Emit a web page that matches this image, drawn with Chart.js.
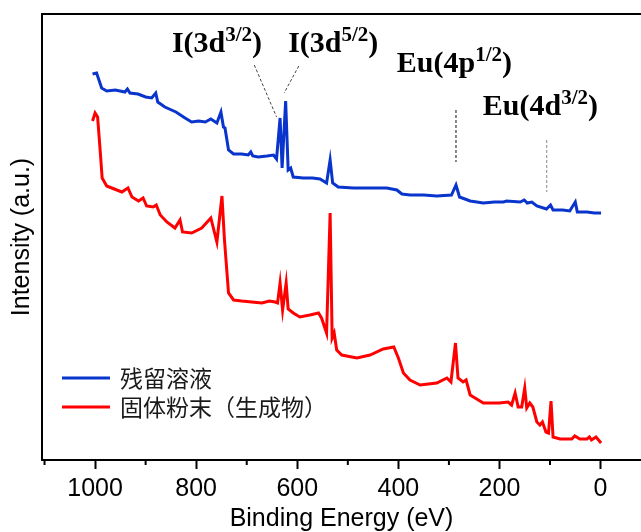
<!DOCTYPE html>
<html><head><meta charset="utf-8">
<script src="https://cdn.jsdelivr.net/npm/chart.js@4.4.0/dist/chart.umd.min.js"></script>
<style>html,body{margin:0;padding:0;background:#fff;overflow:hidden}#wrap{width:641px;height:532px;position:relative}</style>
</head><body><div id="wrap"><canvas id="c" width="641" height="532"></canvas></div>
<script>
// Binding energy (eV) and intensity (a.u.)
const blueEnergy = [1005,997,987,977,960,941,936,931,915,900,888,880,876,862,840,822,809,795,782,771,759,751,746,743,736,726,710,697,692,688,677,660,647,641,634,630,623,618,613,608,588,570,555,542,535,530,519,489,456,423,403,393,377,350,324,295,286,279,258,232,210,192,186,159,151,145,136,126,107,99,94,75,61,50,46,27,12,-1];
const blueIntensity = [386,387,372,369,370,368,371,367,366,363,362,367,358,353,348,342,338,339,338,341,337,348,333,332,310,306,306,305,308,304,303,304,305,301,342,292,359,290,292,283,282,282,281,277,300,277,273,272,272,272,270,266,265,265,264,265,275,263,259,257,258,258,259,258,260,257,258,254,251,255,250,250,249,258,248,248,247,247];
const redEnergy = [1005,1000,995,990,986,977,967,947,935,927,914,905,898,885,879,871,858,842,832,827,809,789,771,759,749,744,736,726,710,690,670,655,644,639,634,629,622,618,608,595,575,558,552,542,535,531,527,522,512,482,456,430,409,400,390,377,357,324,304,296,287,282,272,266,258,245,232,215,200,183,176,169,163,156,150,146,140,134,126,120,115,108,103,98,94,80,57,51,41,27,22,18,9,-1];
const redIntensity = [339,347,343,310,282,274,272,268,272,263,259,262,254,253,255,245,238,232,240,228,227,232,242,218,264,220,167,160,159,158,157,159,158,157,177,150,177,151,147,143,145,147,142,127,247,122,127,110,105,102,105,111,113,102,87,80,75,77,82,78,117,82,78,80,65,61,57,57,57,58,55,67,53,53,72,52,57,53,38,35,38,28,27,59,23,21,21,24,21,21,23,20,23,17];
const seriesNames = ['残留溶液', '固体粉末（生成物）'];
const xMajorTicks = [1000, 800, 600, 400, 200, 0];
const xMinorTicks = [1100, 900, 700, 500, 300, 100];
// peak labels: main text, superscript, anchor energy, anchor intensity
const peakLabels = [
  {main:'I(3d', sup:'3/2', e:848, i:408},
  {main:'I(3d', sup:'5/2', e:618, i:408},
  {main:'Eu(4p', sup:'1/2', e:403, i:388},
  {main:'Eu(4d', sup:'3/2', e:233, i:345}
];
// dashed leader lines: [e1,i1,e2,i2,color]
const leaderLines = [
  [685,395,641,343,'#444'],
  [597,394,626,367,'#444'],
  [286,350,286,298,'#111'],
  [106.5,320,106.5,268,'#888']
];

const toXY = (es, is) => es.map((e, k) => ({x: e, y: is[k]}));

const framePlugin = {
  id: 'frame',
  afterDraw(chart) {
    const {ctx, chartArea: a, scales: {x, y}} = chart;
    ctx.save();
    ctx.strokeStyle = '#000'; ctx.lineWidth = 2;
    ctx.beginPath(); ctx.moveTo(a.left - 1, a.top); ctx.lineTo(a.right, a.top); ctx.stroke();
    xMinorTicks.forEach(v => {
      const px = x.getPixelForValue(v);
      if (px < a.left - 3 || px > a.right) return;
      ctx.beginPath(); ctx.moveTo(px, a.bottom); ctx.lineTo(px, a.bottom + 5); ctx.stroke();
    });
    ctx.lineWidth = 1; ctx.setLineDash([3, 2]);
    leaderLines.forEach(l => {
      ctx.strokeStyle = l[4];
      ctx.beginPath();
      ctx.moveTo(x.getPixelForValue(l[0]), y.getPixelForValue(l[1]));
      ctx.lineTo(x.getPixelForValue(l[2]), y.getPixelForValue(l[3]));
      ctx.stroke();
    });
    ctx.setLineDash([]);
    ctx.fillStyle = '#000'; ctx.textBaseline = 'alphabetic'; ctx.textAlign = 'left';
    peakLabels.forEach(p => {
      let px = x.getPixelForValue(p.e), py = y.getPixelForValue(p.i);
      ctx.font = 'bold 30px "Liberation Serif", "Times New Roman", serif';
      ctx.fillText(p.main, px, py); px += ctx.measureText(p.main).width;
      ctx.font = 'bold 21px "Liberation Serif", "Times New Roman", serif';
      ctx.fillText(p.sup, px, py - 11); px += ctx.measureText(p.sup).width;
      ctx.font = 'bold 30px "Liberation Serif", "Times New Roman", serif';
      ctx.fillText(')', px, py);
    });
    ctx.font = '23px "Noto Sans CJK SC", sans-serif';
    ctx.textBaseline = 'middle';
    chart.data.datasets.forEach((ds, k) => {
      const ly = a.bottom - 82 + k * 29;
      ctx.strokeStyle = ds.borderColor; ctx.lineWidth = 3;
      ctx.beginPath(); ctx.moveTo(a.left + 20, ly); ctx.lineTo(a.left + 68, ly); ctx.stroke();
      ctx.fillStyle = '#1a1a1a';
      ctx.fillText(ds.label, a.left + 78, ly);
    });
    ctx.restore();
  }
};

new Chart(document.getElementById('c'), {
  type: 'line',
  data: {
    datasets: [
      {label: seriesNames[0], data: toXY(blueEnergy, blueIntensity), borderColor: '#0a35cc', borderWidth: 3, pointRadius: 0, tension: 0},
      {label: seriesNames[1], data: toXY(redEnergy, redIntensity), borderColor: '#ff0000', borderWidth: 3, pointRadius: 0, tension: 0}
    ]
  },
  options: {
    responsive: false, animation: false, devicePixelRatio: 1,
    layout: {padding: {top: 14, left: 0, right: 0, bottom: 0}},
    plugins: {legend: {display: false}, tooltip: {enabled: false}},
    scales: {
      x: {
        type: 'linear', reverse: true, min: -80, max: 1105, position: 'bottom',
        afterBuildTicks: s => { s.ticks = xMajorTicks.map(v => ({value: v})); },
        afterFit: s => { s.height = 72; },
        ticks: {font: {family: '"Liberation Sans", Arial, sans-serif', size: 25}, color: '#000', padding: 5, maxRotation: 0, autoSkip: false, callback: v => String(v)},
        grid: {drawOnChartArea: false, drawTicks: true, tickLength: 9, tickWidth: 2, tickColor: '#000'},
        border: {display: true, color: '#000', width: 2},
        title: {display: true, text: 'Binding Energy (eV)', color: '#000', font: {family: '"Liberation Sans", Arial, sans-serif', size: 25, lineHeight: 1}, padding: {top: 0, bottom: 0.5}}
      },
      y: {
        min: 0, max: 446,
        afterFit: s => { s.width = 42; },
        ticks: {display: false},
        grid: {display: false},
        border: {display: true, color: '#000', width: 2},
        title: {display: true, text: 'Intensity (a.u.)', color: '#000', font: {family: '"Liberation Sans", Arial, sans-serif', size: 25, lineHeight: 1}, padding: {top: 9.5, bottom: 0}}
      }
    }
  },
  plugins: [framePlugin]
});
</script></body></html>
